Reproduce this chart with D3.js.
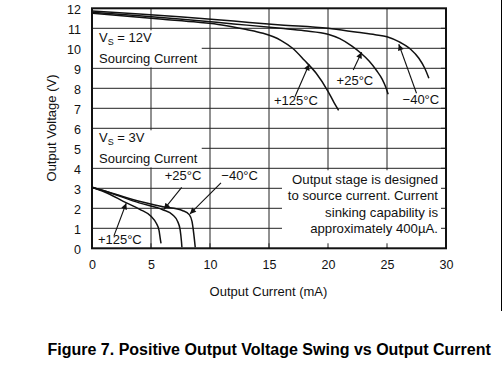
<!DOCTYPE html>
<html><head><meta charset="utf-8">
<script src="https://cdn.jsdelivr.net/npm/d3@7"></script>
<style>
body{margin:0;background:#fff;}
svg{display:block;font-family:"Liberation Sans",Arial,sans-serif;}
</style></head>
<body><svg id="c" width="503" height="367"></svg>
<script>
// ---- data ----
const xTicks = [0,5,10,15,20,25,30];
const yTicks = [0,1,2,3,4,5,6,7,8,9,10,11,12];
// Vs = 12V curves [mA, V]
const v12_m40  = [[0,11.86],[4,11.72],[7.4,11.58],[12,11.36],[16,11.17],[20,11.0],[22.5,10.8],[24,10.68],[25,10.58],[26,10.33],[27,9.95],[27.7,9.5],[28.2,9.0],[28.55,8.5]];
const v12_p25  = [[0,11.8],[4,11.63],[7.4,11.47],[12,11.22],[16,11.0],[18,10.88],[20,10.7],[21,10.48],[22,10.12],[22.8,9.75],[23.5,9.35],[24.1,8.9],[24.6,8.45],[24.9,8.05],[25.1,7.7]];
const v12_p125 = [[0,11.76],[3,11.6],[6,11.45],[9,11.3],[11,11.17],[13,10.95],[14.5,10.75],[16,10.4],[17,10.0],[18,9.4],[19,8.75],[20,7.85],[20.5,7.3],[20.9,6.9]];
// Vs = 3V curves
const v3_m40  = [[0,3.05],[2,2.7],[4,2.35],[6,2.08],[7.7,1.88],[8.26,1.67],[8.48,1.33],[8.62,0.75],[8.75,0.05]];
const v3_p25  = [[0,3.05],[1.5,2.78],[4,2.27],[6,1.93],[6.85,1.67],[7.27,1.33],[7.47,0.92],[7.58,0.35],[7.62,0.05]];
const v3_p125 = [[0,3.05],[1.5,2.7],[2.65,2.35],[4.05,1.95],[5.0,1.6],[5.45,1.25],[5.68,0.9],[5.8,0.42],[5.85,0.25]];
// temperature labels: [text, mA, V(baseline)]
const tempLabels = [["+125°C",15.42,7.17],["+25°C",20.73,8.17],["\u221240°C",26.32,7.2],
                    ["+25°C",6.16,3.42],["\u221240°C",10.96,3.42],["+125°C",0.5,0.21]];
// arrows: [tail mA, tail V, tip mA, tip V]
const arrows = [[17.2,7.58,18.4,9.2],[22.14,8.92,22.85,9.8],[27.5,7.75,26.0,10.2],
                [1.86,0.62,2.9,2.25],[7.6,3.05,6.1,1.95],[10.93,3.27,8.3,1.72]];
const noteLines = ["Output stage is designed","to source current. Current","sinking capability is","approximately 400\u00b5A."];

// ---- layout ----
const svg = d3.select("#c");
const x = d3.scaleLinear().domain([0,30]).range([92,446]);
const y = d3.scaleLinear().domain([0,12]).range([248.3,8.3]);

// grid
const g = svg.append("g");
g.selectAll("line.h").data(yTicks.slice(1,-1)).join("line")
  .attr("x1",x(0)).attr("x2",x(30)).attr("y1",d=>y(d)).attr("y2",d=>y(d))
  .attr("stroke","#222").attr("stroke-width",1);
g.selectAll("line.v").data(xTicks.slice(1,-1)).join("line")
  .attr("y1",y(0)).attr("y2",y(12)).attr("x1",d=>x(d)).attr("x2",d=>x(d))
  .attr("stroke","#222").attr("stroke-width",1);

// white boxes
function box(x0,y0,x1,y1){svg.append("rect").attr("x",x(x0)).attr("y",y(y0)).attr("width",x(x1)-x(x0)).attr("height",y(y1)-y(y0)).attr("fill","#fff");}
box(0.05,10.9,9.3,9.05);
box(0.05,5.9,9.3,4.05);
box(16.1,3.9,29.95,0.05);

// inner ticks (bottom and right)
svg.selectAll("line.bt").data(xTicks.slice(1,-1)).join("line")
  .attr("x1",d=>x(d)).attr("x2",d=>x(d)).attr("y1",y(0)).attr("y2",y(0)-5)
  .attr("stroke","#222");
svg.selectAll("line.rt").data(yTicks.slice(1,-1)).join("line")
  .attr("x1",x(30)).attr("x2",x(30)-5).attr("y1",d=>y(d)).attr("y2",d=>y(d))
  .attr("stroke","#222");

// curves
const line = d3.line().x(d=>x(d[0])).y(d=>y(d[1])).curve(d3.curveMonotoneX);
[v12_m40,v12_p25,v12_p125,v3_m40,v3_p25,v3_p125].forEach(s=>{
  svg.append("path").attr("d",line(s)).attr("fill","none").attr("stroke","#111").attr("stroke-width",1.5);
});

// frame
svg.append("rect").attr("x",x(0)).attr("y",y(12)).attr("width",x(30)-x(0)).attr("height",y(0)-y(12))
  .attr("fill","none").attr("stroke","#111").attr("stroke-width",2);

// axis labels
const axisX = d3.axisBottom(x).tickValues(xTicks).tickSize(0).tickPadding(12);
const gx = svg.append("g").attr("transform",`translate(0,${y(0)})`).call(axisX);
gx.select(".domain").remove();
gx.selectAll("text").attr("font-size",12.5).attr("font-family","Liberation Sans, Arial").attr("fill","#111");
const axisY = d3.axisLeft(y).tickValues(yTicks).tickSize(0).tickPadding(11);
const gy = svg.append("g").attr("transform",`translate(${x(0)},1.5)`).call(axisY);
gy.select(".domain").remove();
gy.selectAll("text").attr("font-size",12.5).attr("font-family","Liberation Sans, Arial").attr("fill","#111");

svg.append("text").attr("x",268.5).attr("y",296).attr("text-anchor","middle")
  .attr("font-size",13).attr("fill","#111").text("Output Current (mA)");
svg.append("text").attr("transform","translate(56,128) rotate(-90)").attr("text-anchor","middle")
  .attr("font-size",13).attr("fill","#111").text("Output Voltage (V)");

// Vs boxes text
function vsText(v, yb){
  const t = svg.append("text").attr("x",x(0)+7).attr("y",yb).attr("font-size",13).attr("fill","#111");
  t.append("tspan").text("V");
  t.append("tspan").attr("font-size",9).attr("dy",3).text("S");
  t.append("tspan").attr("dy",-3).text(` = ${v}`);
  svg.append("text").attr("x",x(0)+7).attr("y",yb+21.5).attr("font-size",13).attr("fill","#111").text("Sourcing Current");
}
vsText("12V",41.8);
vsText("3V",141.8);

// temperature labels
svg.selectAll("text.tl").data(tempLabels).join("text")
  .attr("x",d=>x(d[1])).attr("y",d=>y(d[2])).attr("font-size",13).attr("fill","#111").text(d=>d[0]);

// arrows
svg.append("defs").append("marker").attr("id","ah").attr("viewBox","0 0 10 10")
  .attr("refX",10).attr("refY",5).attr("markerWidth",7).attr("markerHeight",6)
  .attr("markerUnits","userSpaceOnUse").attr("orient","auto")
  .append("path").attr("d","M0,0L10,5L0,10Z").attr("fill","#111");
svg.selectAll("line.ar").data(arrows).join("line")
  .attr("x1",d=>x(d[0])).attr("y1",d=>y(d[1])).attr("x2",d=>x(d[2])).attr("y2",d=>y(d[3]))
  .attr("stroke","#111").attr("stroke-width",1.1).attr("marker-end","url(#ah)");

// note
svg.selectAll("text.note").data(noteLines).join("text")
  .attr("x",438).attr("y",(d,i)=>183.5+i*16.6).attr("text-anchor","end")
  .attr("font-size",13.2).attr("fill","#111").text(d=>d);

// caption
svg.append("text").attr("x",47.5).attr("y",355).attr("font-size",16).attr("font-weight","bold")
  .attr("fill","#000").text("Figure 7. Positive Output Voltage Swing vs Output Current");

// page edge line
svg.append("line").attr("x1",501.5).attr("x2",501.5).attr("y1",0).attr("y2",311).attr("stroke","#000").attr("stroke-width",1);
</script>
</body></html>
